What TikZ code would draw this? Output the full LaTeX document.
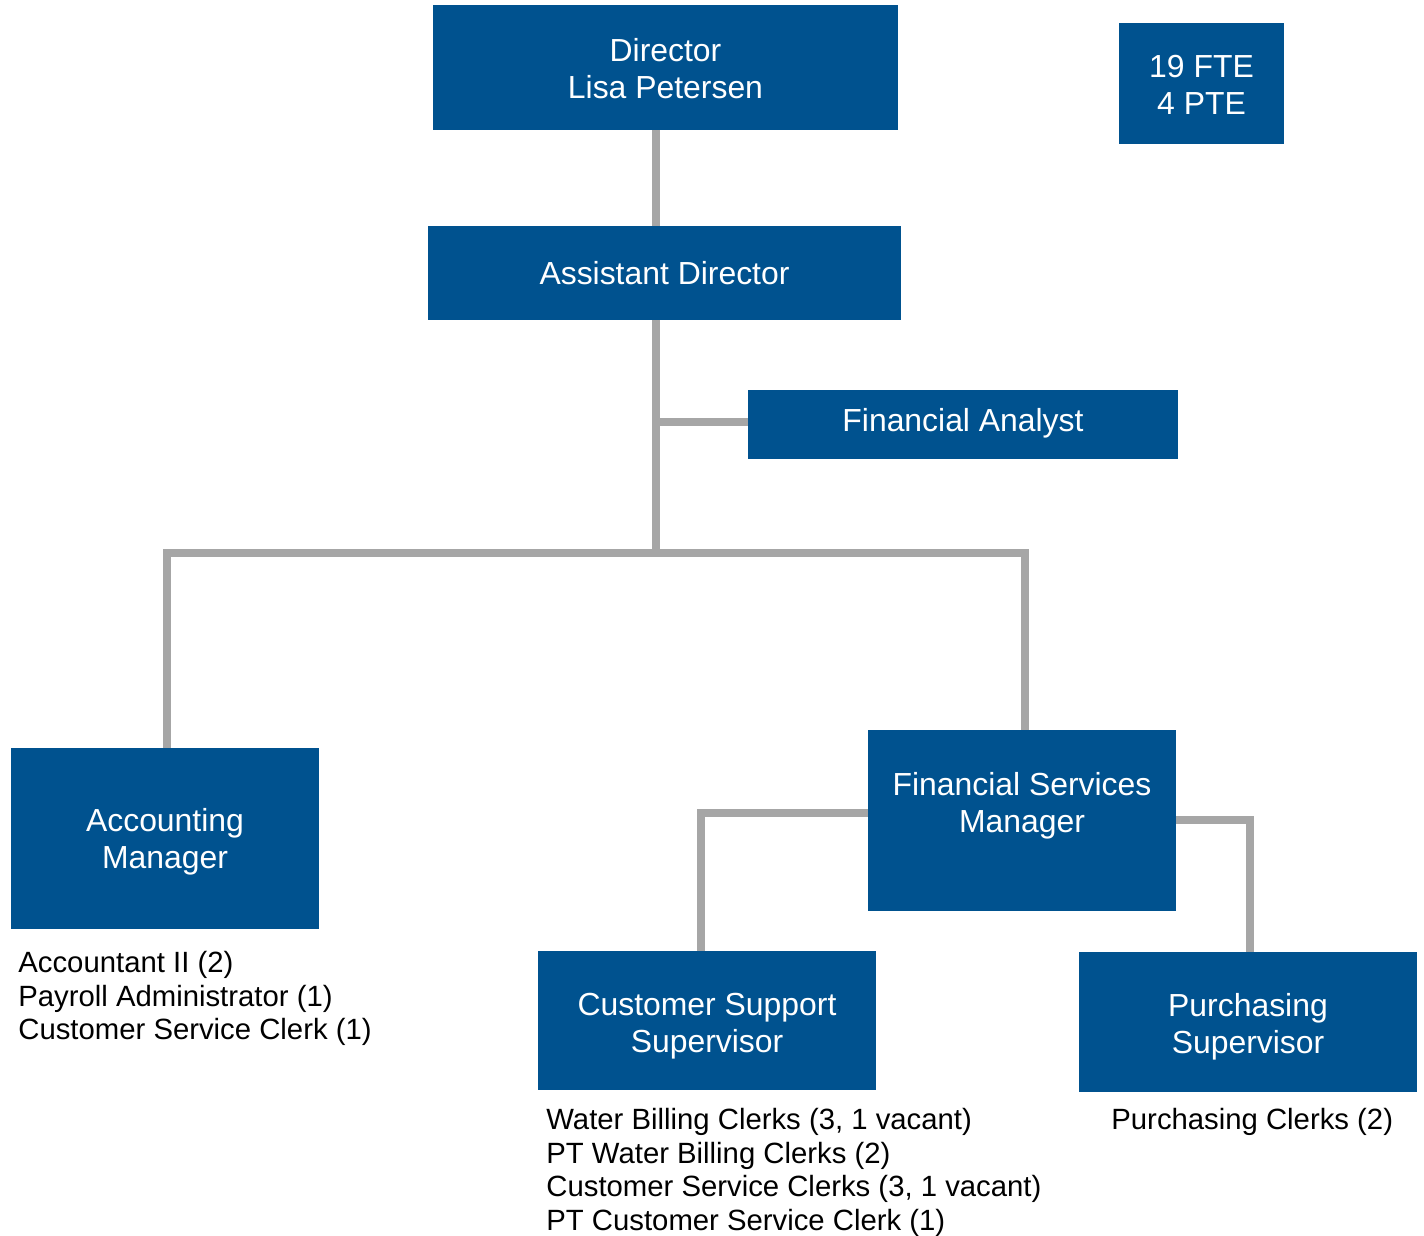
\documentclass[tikz,border=0pt]{standalone}
\usepackage{fontspec}
\setmainfont{Liberation Sans}
\definecolor{boxblue}{RGB}{0,82,143}
\definecolor{linegray}{RGB}{166,166,166}
\begin{document}
\begin{tikzpicture}[x=0.5pt,y=-0.5pt,
  orgbox/.style={fill=boxblue,draw=none,inner sep=0pt},
  boxtext/.style={inner sep=0pt,text=white,align=center,font=\fontsize{15.95pt}{18.5pt}\selectfont},
  listtext/.style={inner sep=0pt,anchor=north west,align=left,
    font=\fontsize{14.65pt}{16.8pt}\selectfont},
  conn/.style={draw=linegray,line width=3.6pt,line join=miter}]
\useasboundingbox (0,0) rectangle (1424,1236);
% boxes
\node[orgbox,minimum width=232.5pt,minimum height=62.5pt] (dir) at (665.5,67.5) {};
\node[boxtext] (dirtext) at (665.5,68.5) {Director\\Lisa Petersen};
\node[orgbox,minimum width=82.5pt,minimum height=60.5pt] (fte) at (1201.5,83.5) {};
\node[boxtext] (ftetext) at (1201.5,84.5) {19 FTE\\4 PTE};
\node[orgbox,minimum width=236.5pt,minimum height=47pt] (ad) at (664.5,273) {};
\node[boxtext] (adtext) at (664.5,273) {Assistant Director};
\node[orgbox,minimum width=215pt,minimum height=34.5pt] (fa) at (963,424.5) {};
\node[boxtext] (fatext) at (963,423.5) {Financial Analyst};
\node[orgbox,minimum width=154pt,minimum height=90.5pt] (acc) at (165,838.5) {};
\node[boxtext] (acctext) at (165,842) {Accounting\\Manager};
\node[orgbox,minimum width=154pt,minimum height=90.5pt] (fsm) at (1022,820.5) {};
\node[boxtext] (fsmtext) at (1022,805.5) {Financial Services\\Manager};
\node[orgbox,minimum width=169pt,minimum height=69.5pt] (css) at (707,1020.5) {};
\node[boxtext] (csstext) at (707,1026) {Customer Support\\Supervisor};
\node[orgbox,minimum width=169pt,minimum height=70pt] (ps) at (1248,1022) {};
\node[boxtext] (pstext) at (1248,1027) {Purchasing\\Supervisor};
% lists
\node[listtext] (acclist) at (18,951) {Accountant II (2)\\Payroll Administrator (1)\\Customer Service Clerk (1)};
\node[listtext] (csslist) at (546,1108) {Water Billing Clerks (3, 1 vacant)\\PT Water Billing Clerks (2)\\Customer Service Clerks (3, 1 vacant)\\PT Customer Service Clerk (1)};
\node[listtext] (pslist) at (1111,1108) {Purchasing Clerks (2)};
% junctions
\coordinate (j1) at (656,553);
\coordinate (j2) at (656,422);
\coordinate (jl) at (167,553);
\coordinate (jr) at (1025,553);
\coordinate (c1) at (701,813);
\coordinate (c2) at (1250,820);
% connectors
\draw[conn] (dir.south -| j1) -- (ad.north -| j1);
\draw[conn] (ad.south -| j1) -- (j1);
\draw[conn] (j2) -- (j2 -| fa.west);
\draw[conn] (jl |- acc.north) -- (jl) -- (jr) -- (jr |- fsm.north);
\draw[conn] (fsm.west |- c1) -- (c1) -- (c1 |- css.north);
\draw[conn] (fsm.east |- c2) -- (c2) -- (c2 |- ps.north);
\end{tikzpicture}
\end{document}
